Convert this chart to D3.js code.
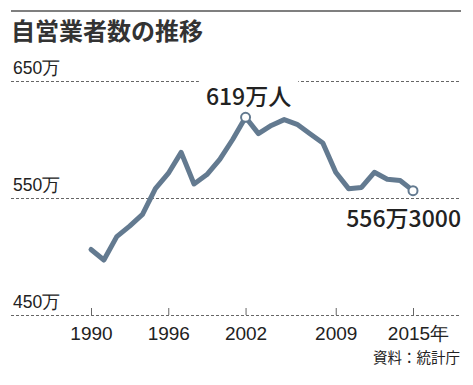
<!DOCTYPE html>
<html>
<head>
<meta charset="utf-8">
<script src="https://cdn.jsdelivr.net/npm/d3@7"></script>
<style>
  body { margin: 0; background: #fff; }
  svg { display: block; font-family: "Noto Sans CJK JP", "Noto Sans", sans-serif; }
</style>
</head>
<body>
<div id="chart"></div>
<script>
// data (単位: 万人)
const years = [1990, 1991, 1992, 1993, 1994, 1995, 1996, 1997, 1998, 1999, 2000, 2001, 2002,
  2003, 2004, 2005, 2006, 2007, 2008, 2009, 2010, 2011, 2012, 2013, 2014, 2015];
const workers = [506, 497, 517, 526, 536, 558, 571, 589, 562, 570, 583, 600, 619,
  605, 612, 617, 613, 605, 597, 572, 558, 559, 572, 566, 565, 556.3];
const yTicks = [450, 550, 650];
const xTicks = [1990, 1996, 2002, 2009, 2015];
const title = "自営業者数の推移";
const source = "資料：統計庁";

const width = 473, height = 385;
const lineColor = "#637a90";

const svg = d3.select("#chart").append("svg")
  .attr("width", width)
  .attr("height", height);

// scales
const x = d3.scaleLinear().domain([1990, 2015]).range([91, 413]);
const y = d3.scaleLinear().domain([450, 650]).range([315, 81]);

// top rule + title
svg.append("line")
  .attr("x1", 11).attr("x2", 461).attr("y1", 11).attr("y2", 11)
  .attr("stroke", "#555").attr("stroke-width", 1.5);
svg.append("text")
  .attr("x", 11).attr("y", 40)
  .attr("font-size", 24).attr("font-weight", 700).attr("fill", "#333")
  .text(title);

// y grid + labels
const yAxis = d3.axisRight(y).tickValues(yTicks).tickSize(450)
  .tickFormat(d => d + "万");
const gy = svg.append("g").attr("transform", "translate(11,0)").call(yAxis);
gy.select(".domain").remove();
gy.selectAll(".tick line")
  .attr("stroke", "#666").attr("stroke-dasharray", "3,2");
gy.selectAll(".tick text")
  .attr("x", 2).attr("dy", -8)
  .attr("text-anchor", "start")
  .attr("font-family", "inherit").attr("font-size", 17.5).attr("fill", "#222");

// x axis
const xAxis = d3.axisBottom(x).tickValues(xTicks).tickSizeInner(-7).tickSizeOuter(0)
  .tickFormat(d => d === 2015 ? d + "年" : d);
const gx = svg.append("g").attr("transform", "translate(0,315)").call(xAxis);
gx.select(".domain").remove();
gx.selectAll(".tick line").attr("stroke", "#666");
gx.selectAll(".tick text")
  .attr("y", 25).attr("dy", 0)
  .attr("font-family", "inherit").attr("font-size", 19).attr("fill", "#222")
  .attr("dx", d => d === 2015 ? 5 : 0);

// source
svg.append("text")
  .attr("x", 460).attr("y", 363)
  .attr("text-anchor", "end")
  .attr("font-size", 14.5).attr("fill", "#222")
  .text(source);

// gap in the 650 grid line behind the peak label (sized later)
const gap = svg.append("rect").attr("fill", "#fff");

// line
const pts = years.map((yr, i) => ({ year: yr, value: workers[i] }));
const line = d3.line().x(d => x(d.year)).y(d => y(d.value));
svg.append("path")
  .datum(pts)
  .attr("fill", "none")
  .attr("stroke", lineColor)
  .attr("stroke-width", 5)
  .attr("stroke-linejoin", "round")
  .attr("stroke-linecap", "round")
  .attr("d", line);

// highlighted points
const peak = pts[workers.indexOf(d3.max(workers))];
const last = pts[pts.length - 1];
svg.selectAll(".marker")
  .data([peak, last])
  .enter().append("circle")
  .attr("class", "marker")
  .attr("cx", d => x(d.year)).attr("cy", d => y(d.value))
  .attr("r", 4.5)
  .attr("fill", "#fff").attr("stroke", lineColor).attr("stroke-width", 2);

// peak label
const peakLabel = svg.append("text")
  .attr("x", x(peak.year) + 3).attr("y", 105)
  .attr("text-anchor", "middle")
  .attr("font-size", 23).attr("font-weight", 500).attr("fill", "#222")
  .text(peak.value + "万人");
const bb = peakLabel.node().getBBox();
gap.attr("x", bb.x - 7).attr("y", y(650) - 2)
  .attr("width", bb.width + 14).attr("height", 4);

// last label
svg.append("text")
  .attr("x", 461).attr("y", 227)
  .attr("text-anchor", "end")
  .attr("font-size", 23).attr("font-weight", 500).attr("fill", "#222")
  .text("556万3000");
</script>
</body>
</html>
